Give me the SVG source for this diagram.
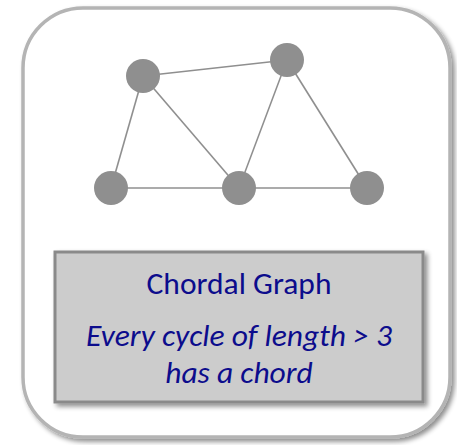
<svg xmlns="http://www.w3.org/2000/svg" width="457" height="445" viewBox="0 0 457 445">
<defs>
<filter id="sh" x="-10%" y="-10%" width="125%" height="125%">
<feGaussianBlur in="SourceAlpha" stdDeviation="2.5"/>
<feOffset dx="3" dy="3" result="b"/>
<feComponentTransfer><feFuncA type="linear" slope="0.45"/></feComponentTransfer>
<feMerge><feMergeNode/><feMergeNode in="SourceGraphic"/></feMerge>
</filter>
<style>
.edge{stroke:#8f8f8f;stroke-width:1.6;fill:none}
.node{fill:#8f8f8f}
.t{font-family:Carlito,Calibri,Lato,"Liberation Sans",sans-serif;fill:#0c0c8c;text-anchor:middle;font-size:31.5px}
.i{font-style:italic}
</style>
</defs>
<rect x="23" y="8" width="427" height="429" rx="60" ry="60" fill="#ffffff" stroke="#b4b4b4" stroke-width="3.5" filter="url(#sh)"/>
<g id="edges">
<line class="edge" x1="143" y1="76" x2="287" y2="60"/>
<line class="edge" x1="143" y1="76" x2="111" y2="188"/>
<line class="edge" x1="143" y1="76" x2="239" y2="188"/>
<line class="edge" x1="287" y1="60" x2="239" y2="188"/>
<line class="edge" x1="287" y1="60" x2="367" y2="188"/>
<line class="edge" x1="111" y1="188" x2="239" y2="188"/>
<line class="edge" x1="239" y1="188" x2="367" y2="188"/>
</g>
<g id="nA"><circle class="node" cx="143" cy="76" r="17"/></g>
<g id="nB"><circle class="node" cx="287" cy="60" r="17"/></g>
<g id="nC"><circle class="node" cx="111" cy="188" r="17"/></g>
<g id="nD"><circle class="node" cx="239" cy="188" r="17"/></g>
<g id="nE"><circle class="node" cx="367" cy="188" r="17"/></g>
<g id="label">
<rect x="55" y="252" width="368" height="150" fill="#cccccc" stroke="#8a8a8a" stroke-width="3" filter="url(#sh)"/>
<text class="t" x="239" y="294">Chordal Graph</text>
<text class="t i" x="239" y="346">Every cycle of length &gt; 3</text>
<text class="t i" x="239" y="383">has a chord</text>
</g>
</svg>
